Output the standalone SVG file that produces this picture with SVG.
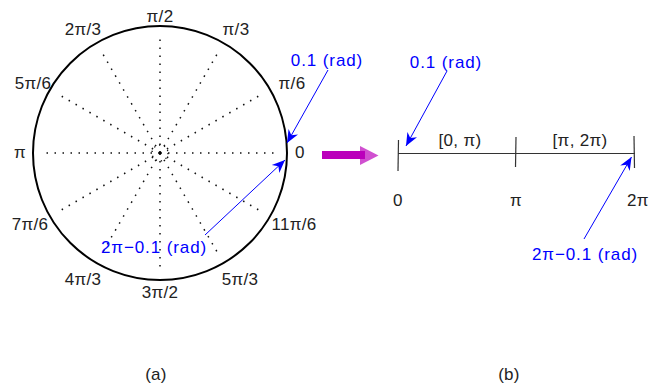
<svg xmlns="http://www.w3.org/2000/svg" width="663" height="392" viewBox="0 0 663 392">
<style>
text{font-family:"Liberation Sans",Arial,sans-serif;font-size:17px;letter-spacing:0.3px;fill:#222;text-anchor:middle}
.b{fill:#0000ff;letter-spacing:0.9px}
.conn{stroke:#0000ff;stroke-width:1;fill:none}
.spoke{stroke:#111;stroke-width:1.5;stroke-dasharray:1.5 6.5;fill:none}
.axis{stroke:#333;stroke-width:1.2;fill:none}
</style>
<defs>
<marker id="ah" markerUnits="userSpaceOnUse" viewBox="-13 -6 14 12" refX="0" refY="0" markerWidth="14" markerHeight="12" orient="auto">
<path d="M0,0 L-13,-5.5 L-9,0 L-13,5.5 Z" fill="#0000ff"/>
</marker>
</defs>
<g id="circle-node">
<circle cx="160" cy="153" r="127" fill="none" stroke="#000" stroke-width="2"/>
<g class="spokes">
<line class="spoke" x1="160" y1="153" x2="278" y2="153"/>
<line class="spoke" x1="160" y1="153" x2="262.2" y2="94"/>
<line class="spoke" x1="160" y1="153" x2="219" y2="50.8"/>
<line class="spoke" x1="160" y1="153" x2="160" y2="35"/>
<line class="spoke" x1="160" y1="153" x2="101" y2="50.8"/>
<line class="spoke" x1="160" y1="153" x2="57.8" y2="94"/>
<line class="spoke" x1="160" y1="153" x2="42" y2="153"/>
<line class="spoke" x1="160" y1="153" x2="57.8" y2="212"/>
<line class="spoke" x1="160" y1="153" x2="101" y2="255.2"/>
<line class="spoke" x1="160" y1="153" x2="160" y2="271"/>
<line class="spoke" x1="160" y1="153" x2="219" y2="255.2"/>
<line class="spoke" x1="160" y1="153" x2="262.2" y2="212"/>
<circle cx="160" cy="153" r="8" fill="none" stroke="#111" stroke-width="1.3" stroke-dasharray="1.3 3.9"/>
<circle cx="160" cy="153" r="1.4" fill="#000"/>
</g>
<text x="160" y="22">π/2</text>
<text x="236" y="35">π/3</text>
<text x="83" y="35">2π/3</text>
<text x="292" y="89">π/6</text>
<text x="33" y="89">5π/6</text>
<text x="20" y="158">π</text>
<text x="300" y="158">0</text>
<text x="30" y="230">7π/6</text>
<text x="294" y="230">11π/6</text>
<text x="83" y="285">4π/3</text>
<text x="240" y="285">5π/3</text>
<text x="160" y="298">3π/2</text>
</g>
<g id="label-a-01"><text class="b" x="327" y="66">0.1 (rad)</text></g>
<g id="label-a-2pi"><text class="b" x="154" y="253">2π−0.1 (rad)</text></g>
<g id="transform-arrow">
<path d="M360,146 L378.5,155.5 L360,165 Z" fill="#d050d0"/>
<rect x="322" y="151" width="43" height="8" fill="#bb00bb"/>
</g>
<g id="interval-line">
<line class="axis" x1="398" y1="153.5" x2="635" y2="153.5"/>
<line class="axis" x1="398.5" y1="140" x2="398" y2="171"/>
<line class="axis" x1="516" y1="137" x2="515.5" y2="167"/>
<line class="axis" x1="634" y1="136" x2="634.5" y2="168"/>
<text x="460" y="146">[0, π)</text>
<text x="580" y="146">[π, 2π)</text>
<text x="398" y="206">0</text>
<text x="516" y="206">π</text>
<text x="638" y="206">2π</text>
</g>
<g id="label-b-01"><text class="b" x="446" y="68">0.1 (rad)</text></g>
<g id="label-b-2pi"><text class="b" x="585" y="260">2π−0.1 (rad)</text></g>
<g id="connectors">
<line class="conn" x1="328" y1="70" x2="287" y2="143" marker-end="url(#ah)"/>
<line class="conn" x1="205" y1="235" x2="285" y2="160" marker-end="url(#ah)"/>
<line class="conn" x1="447" y1="71" x2="406" y2="146" marker-end="url(#ah)"/>
<line class="conn" x1="584" y1="239" x2="631.5" y2="157" marker-end="url(#ah)"/>
</g>
<g id="captions">
<text x="156" y="380">(a)</text>
<text x="509" y="380">(b)</text>
</g>
</svg>
